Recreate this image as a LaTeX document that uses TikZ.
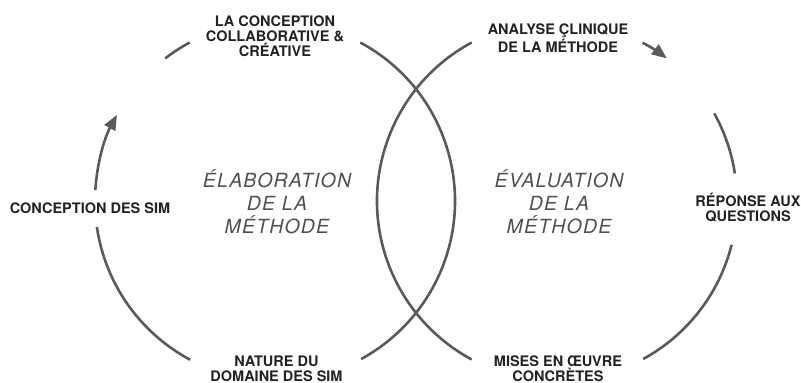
\documentclass[tikz,border=0pt]{standalone}
\usepackage{fontspec}
\setmainfont{TeX Gyre Heros}
\newfontfamily\phasefont{TeX Gyre Heros}[LetterSpace=6]
\usetikzlibrary{arrows.meta}
\definecolor{arcgray}{HTML}{5A5A5A}
\definecolor{labelgray}{HTML}{222222}
\definecolor{italgray}{HTML}{505050}
\tikzset{
  arcline/.style={draw=arcgray, line width=2.6pt},
  arcarrow/.style={arcline, -{Triangle[length=15pt,width=12pt]}},
  steplabel/.style={text=labelgray, font=\bfseries\fontsize{14.5}{15}\selectfont, align=center, inner sep=0pt},
  phaselabel/.style={text=italgray, font=\phasefont\itshape\fontsize{19.5}{23}\selectfont, align=center, inner sep=0pt}
}
\begin{document}
\begin{tikzpicture}[x=1pt,y=1pt]
\useasboundingbox (0,0) rectangle (801,383);
\coordinate (L) at (275,182);
\coordinate (R) at (557,182);
% left circle
\draw[arcline] ([shift={(241.9:180)}]L) arc[start angle=241.9, end angle=188.3, radius=180];
\draw[arcarrow] ([shift={(176.5:180)}]L) arc[start angle=176.5, end angle=151.4, radius=180];
\draw[arcline] ([shift={(127.6:180)}]L) arc[start angle=127.6, end angle=118.3, radius=180];
\draw[arcline] ([shift={(61.7:180)}]L) arc[start angle=61.7, end angle=-61.4, radius=180];
% right circle
\draw[arcline] ([shift={(118.3:180)}]R) arc[start angle=118.3, end angle=241.7, radius=180];
\draw[arcarrow] ([shift={(61.6:180)}]R) arc[start angle=61.6, end angle=52.4, radius=180];
\draw[arcline] ([shift={(29.1:180)}]R) arc[start angle=29.1, end angle=8.8, radius=180];
\draw[arcline] ([shift={(-14.1:180)}]R) arc[start angle=-14.1, end angle=-61.4, radius=180];
% labels
\node[steplabel] (collab) at (275,347) {LA CONCEPTION\\COLLABORATIVE \&\\CRÉATIVE};
\node[steplabel] (analyse) at (558,345) {ANALYSE ÇLINIQUE\\DE LA MÉTHODE};
\node[steplabel] (concsim) at (90,174.5) {CONCEPTION DES SIM};
\node[steplabel] (reponse) at (748,175.7) {RÉPONSE AUX\\QUESTIONS};
\node[steplabel] (nature) at (276.5,14.5) {NATURE DU\\DOMAINE DES SIM};
\node[steplabel] (mises) at (558,14.5) {MISES EN ŒUVRE\\CONCRÈTES};
\node[phaselabel] (elab) at (277,181.4) {ÉLABORATION\\DE LA\\MÉTHODE};
\node[phaselabel] (eval) at (559,181.4) {ÉVALUATION\\DE LA\\MÉTHODE};
\end{tikzpicture}
\end{document}
